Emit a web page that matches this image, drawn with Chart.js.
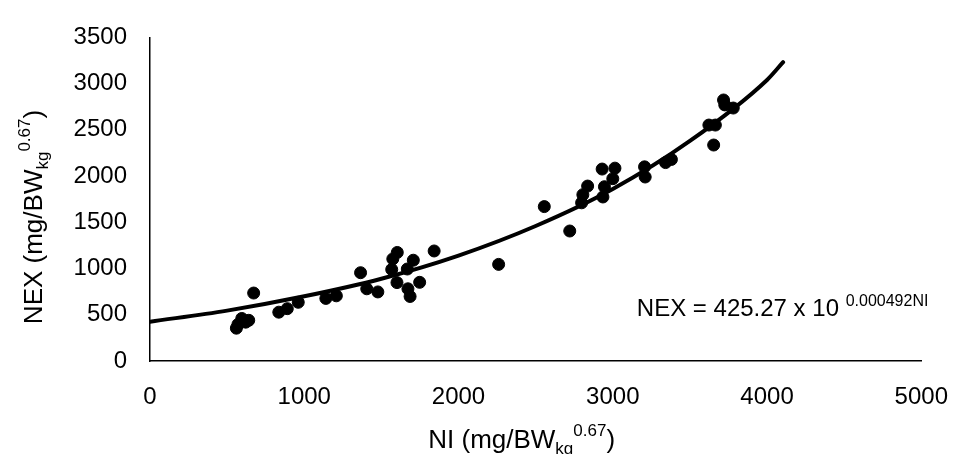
<!DOCTYPE html>
<html>
<head>
<meta charset="utf-8">
<script src="https://cdn.jsdelivr.net/npm/chart.js@4/dist/chart.umd.min.js"></script>
<style>
  html, body { margin: 0; padding: 0; background: #fff; }
</style>
</head>
<body>
<canvas id="nexChart" width="970" height="454"></canvas>
<script>
// Observed points (NI, NEX)
const niValues = [560, 570, 595, 620, 640, 672, 835, 890, 961, 1140, 1208, 1365, 1405, 1477,
  1567, 1574, 1603, 1601, 1668, 1707, 1672, 1686, 1748, 1842,
  2260, 2556, 2721, 2798, 2806, 2837, 2931, 2946, 2936, 3014, 3000, 3206, 3210, 3342, 3380,
  3623, 3665, 3654, 3718, 3726, 3781];
const nexValues = [355, 395, 460, 420, 440, 735, 528, 566, 635, 677, 705, 955, 781, 747,
  990, 1104, 1174, 848, 995, 1090, 781, 698, 851, 1190,
  1045, 1670, 1406, 1711, 1799, 1892, 2076, 1885, 1774, 2086, 1972, 2100, 1990, 2146, 2180,
  2552, 2552, 2336, 2823, 2770, 2736];

// Fitted curve
const curveNI = [0, 500, 1000, 1500, 2000, 2500, 3000, 3500, 4000, 4104];
const curveNEX = [425, 545, 700, 890, 1140, 1460, 1860, 2380, 3040, 3232];

// Axis ticks
const xTicks = [0, 1000, 2000, 3000, 4000, 5000];
const yTicks = [0, 500, 1000, 1500, 2000, 2500, 3000, 3500];

// Equation label anchor (data units)
const eqNI = 3156;
const eqNEX = 490;

const FONT = "'Liberation Sans', Arial, sans-serif";

function drawRich(ctx, parts, x, y) {
  let cx = x;
  parts.forEach((p) => {
    ctx.font = p.size + "px " + FONT;
    ctx.fillText(p.text, cx, y + (p.dy || 0));
    cx += ctx.measureText(p.text).width;
  });
}

function richWidth(ctx, parts) {
  let w = 0;
  parts.forEach((p) => {
    ctx.font = p.size + "px " + FONT;
    w += ctx.measureText(p.text).width;
  });
  return w;
}

const titlePlugin = {
  id: "titlePlugin",
  afterDraw(chart) {
    const ctx = chart.ctx;
    const area = chart.chartArea;
    ctx.save();
    ctx.fillStyle = "#000";
    ctx.textBaseline = "alphabetic";
    ctx.textAlign = "left";

    // x axis title
    const xParts = [
      { text: "NI (mg/BW", size: 26 },
      { text: "kg", size: 17, dy: 6 },
      { text: "0.67", size: 17, dy: -12 },
      { text: ")", size: 26 },
    ];
    const xw = richWidth(ctx, xParts);
    drawRich(ctx, xParts, (area.left + area.right) / 2 - 14 - xw / 2, 448);

    // y axis title
    const yParts = [
      { text: "NEX (mg/BW", size: 26 },
      { text: "kg", size: 17, dy: 6 },
      { text: "0.67", size: 17, dy: -12 },
      { text: ")", size: 26 },
    ];
    const yw = richWidth(ctx, yParts);
    ctx.save();
    ctx.translate(42, 217);
    ctx.rotate(-Math.PI / 2);
    drawRich(ctx, yParts, -yw / 2, 0);
    ctx.restore();

    // equation
    const ex = chart.scales.x.getPixelForValue(eqNI);
    const ey = chart.scales.y.getPixelForValue(eqNEX);
    drawRich(ctx, [
      { text: "NEX = 425.27 x 10 ", size: 24 },
      { text: "0.000492NI", size: 16, dy: -10 },
    ], ex, ey);
    ctx.restore();
  },
};

const ctx = document.getElementById("nexChart").getContext("2d");

new Chart(ctx, {
  type: "scatter",
  data: {
    datasets: [
      {
        label: "Curve",
        data: curveNI.map((x, i) => ({ x: x, y: curveNEX[i] })),
        showLine: true,
        borderColor: "#000",
        borderWidth: 4,
        pointRadius: 0,
        cubicInterpolationMode: "monotone",
        borderCapStyle: "round",
        order: 2,
      },
      {
        label: "Observed",
        data: niValues.map((x, i) => ({ x: x, y: nexValues[i] })),
        backgroundColor: "#000",
        borderColor: "#000",
        pointRadius: 6,
        pointHoverRadius: 6,
        order: 1,
      },
    ],
  },
  options: {
    responsive: false,
    animation: false,
    layout: {
      padding: { left: 0, right: 31, top: 25, bottom: 0 },
    },
    plugins: {
      legend: { display: false },
      tooltip: { enabled: false },
    },
    scales: {
      x: {
        type: "linear",
        min: 0,
        max: 5000,
        afterBuildTicks: (scale) => {
          scale.ticks = xTicks.map((v) => ({ value: v }));
        },
        afterFit: (scale) => {
          scale.height = 93;
        },
        grid: { display: false, drawTicks: false },
        border: { display: true, color: "#000", width: 1.5 },
        ticks: {
          padding: 22,
          color: "#000",
          font: { size: 24, family: FONT },
          maxRotation: 0,
          callback: (v) => String(v),
        },
      },
      y: {
        type: "linear",
        min: 0,
        max: 3500,
        afterBuildTicks: (scale) => {
          scale.ticks = yTicks.map((v) => ({ value: v }));
        },
        afterFit: (scale) => {
          scale.width = 150;
        },
        grid: { display: false, drawTicks: false },
        border: { display: true, color: "#000", width: 1.5 },
        ticks: {
          padding: 23,
          color: "#000",
          font: { size: 24, family: FONT },
          callback: (v) => String(v),
        },
      },
    },
  },
  plugins: [titlePlugin],
});
</script>
</body>
</html>
